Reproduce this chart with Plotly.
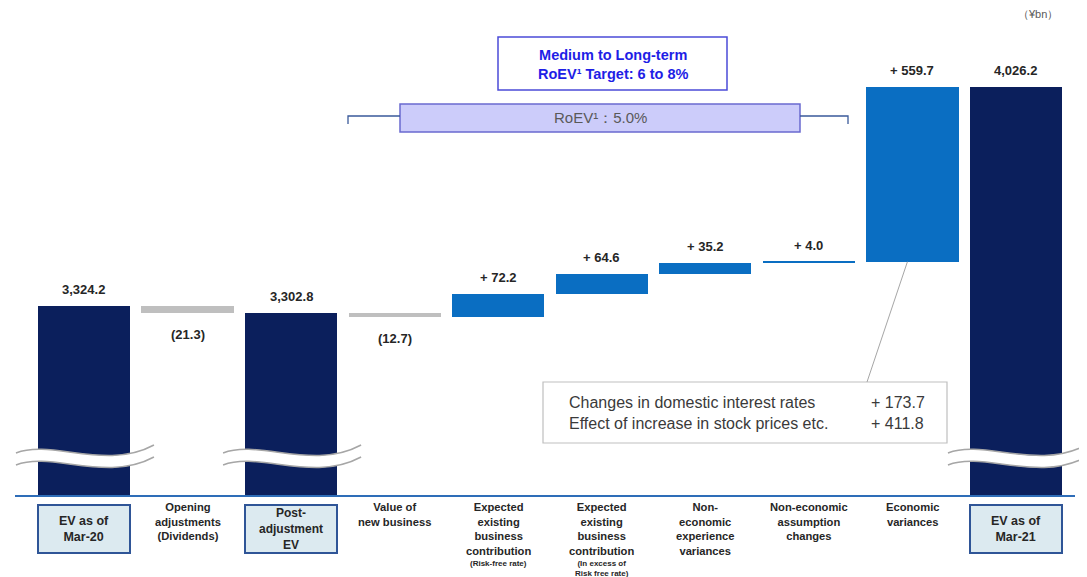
import plotly.graph_objects as go

# ---------------- data ----------------
categories = [
    "EV as of<br>Mar-20",
    "Opening<br>adjustments<br>(Dividends)",
    "Post-<br>adjustment<br>EV",
    "Value of<br>new business",
    "Expected<br>existing<br>business<br>contribution",
    "Expected<br>existing<br>business<br>contribution",
    "Non-<br>economic<br>experience<br>variances",
    "Non-economic<br>assumption<br>changes",
    "Economic<br>variances",
    "EV as of<br>Mar-21",
]
sub_notes = ["", "", "", "", "(Risk-free rate)", "(In excess of<br>Risk free rate)", "", "", "", ""]
values = [3324.2, -21.3, 3302.8, -12.7, 72.2, 64.6, 35.2, 4.0, 559.7, 4026.2]
kinds = ["total", "change", "total", "change", "change", "change", "change", "change", "change", "total"]
detail_labels = ["Changes in domestic interest rates", "Effect of increase in stock prices etc."]
detail_values = [173.7, 411.8]
roev_actual = "5.0%"
roev_target = "6 to 8%"
unit_label = "（¥bn）"

# ---------------- styling / layout constants ----------------
NAVY = "#0B1F5C"
BLUE = "#0A6EC2"
GRAY = "#BFBFBF"
TXT = "#262626"
FONT = "Arial, Liberation Sans, sans-serif"

PAGE_OFFSET = 8  # default page body margin
W, H = 1087 - PAGE_OFFSET, 577 - PAGE_OFFSET
# plot area in window pixels
PL, PR, PT, PB = 15, 1075, 40, 495
ML, MT = PL - PAGE_OFFSET, PT - PAGE_OFFSET
MR = W - (PR - PAGE_OFFSET)
MB = H - (PB - PAGE_OFFSET)
PW, PH = PR - PL, PB - PT
X_RANGE = [-0.666, 9.57]
Y_RANGE = [2718.4, 4176.9]


def px(xp):
    return (xp - PL) / PW


def py(yp):
    return (PB - yp) / PH


def cat_px(i):
    return PL + (i - X_RANGE[0]) / (X_RANGE[1] - X_RANGE[0]) * PW


# ---------------- waterfall geometry from data ----------------
bases, heights, colors, tops, bottoms = [], [], [], [], []
running = 0.0
for v, k in zip(values, kinds):
    if k == "total":
        bases.append(0.0)
        heights.append(v)
        colors.append(NAVY)
        running = v
    else:
        if v < 0:
            bases.append(running + v)
            heights.append(-v)
            colors.append(GRAY)
        else:
            bases.append(running)
            heights.append(v)
            colors.append(BLUE)
        running += v
    tops.append(bases[-1] + heights[-1])
    bottoms.append(bases[-1])


def fmt(v, k):
    if k == "total":
        return f"{v:,.1f}"
    if v < 0:
        return f"({abs(v):,.1f})"
    return f"+ {v:,.1f}"


idx = list(range(len(categories)))

fig = go.Figure()
fig.add_trace(go.Bar(
    x=idx, y=heights, base=bases, width=0.89,
    marker=dict(color=colors, line=dict(width=0)),
    hoverinfo="skip", showlegend=False,
))

annotations = []
shapes = []

# value labels
for i, (v, k) in enumerate(zip(values, kinds)):
    if k == "change" and v < 0:
        annotations.append(dict(x=i, y=bottoms[i], xref="x", yref="y", text=f"<b>{fmt(v, k)}</b>",
                                showarrow=False, xanchor="center", yanchor="top", yshift=-12,
                                font=dict(size=13, color=TXT, family=FONT)))
    else:
        annotations.append(dict(x=i, y=tops[i], xref="x", yref="y", text=f"<b>{fmt(v, k)}</b>",
                                showarrow=False, xanchor="center", yanchor="bottom", yshift=7,
                                font=dict(size=13, color=TXT, family=FONT)))

# category labels
for i, (c, k) in enumerate(zip(categories, kinds)):
    if k == "total":
        annotations.append(dict(x=i, y=0, xref="x", yref="paper", text=f"<b>{c}</b>",
                                showarrow=False, xanchor="center", yanchor="top", yshift=-9,
                                width=88, height=44, borderpad=1, borderwidth=2,
                                bordercolor="#2F5597", bgcolor="#DCEAF0", valign="middle",
                                font=dict(size=12 if c.count("<br>") >= 2 else 12.5, color=TXT, family=FONT)))
    else:
        annotations.append(dict(x=i, y=0, xref="x", yref="paper", text=f"<b>{c}</b>",
                                showarrow=False, xanchor="center", yanchor="top", yshift=-4,
                                font=dict(size=11.2, color=TXT, family=FONT)))
        if sub_notes[i]:
            nlines = c.count("<br>") + 1
            annotations.append(dict(x=i, y=0, xref="x", yref="paper", text=f"<b>{sub_notes[i]}</b>",
                                    showarrow=False, xanchor="center", yanchor="top",
                                    yshift=-5 - nlines * 14.3,
                                    font=dict(size=8, color=TXT, family=FONT)))

# unit label
annotations.append(dict(x=px(1060), y=py(14), xref="paper", yref="paper", text=unit_label,
                        showarrow=False, xanchor="right", yanchor="middle",
                        font=dict(size=11, color="#595959", family=FONT)))

# RoEV target box
shapes.append(dict(type="rect", xref="paper", yref="paper", x0=px(498), x1=px(727), y0=py(90), y1=py(37),
                   line=dict(color="#4B4BD8", width=1.5), fillcolor="white"))
annotations.append(dict(x=px(612.5), y=py(64), xref="paper", yref="paper",
                        text=f"<b>Medium to Long-term<br>RoEV¹ Target: {roev_target}</b>",
                        showarrow=False, xanchor="center", yanchor="middle",
                        font=dict(size=14.5, color="#1E1EE6", family=FONT)))

# RoEV actual bar with bracket
shapes.append(dict(type="rect", xref="paper", yref="paper", x0=px(400), x1=px(800), y0=py(132), y1=py(104),
                   line=dict(color="#6A6AD0", width=1.5), fillcolor="#CCCCFA"))
annotations.append(dict(x=px(600), y=py(118), xref="paper", yref="paper",
                        text=f"RoEV¹：{roev_actual}",
                        showarrow=False, xanchor="center", yanchor="middle",
                        font=dict(size=15, color="#595959", family=FONT)))
shapes.append(dict(type="path", xref="paper", yref="paper",
                   path=f"M {px(348)},{py(124)} L {px(348)},{py(116)} L {px(400)},{py(116)}",
                   line=dict(color="#3A5A9A", width=1.3), fillcolor="rgba(0,0,0,0)"))
shapes.append(dict(type="path", xref="paper", yref="paper",
                   path=f"M {px(800)},{py(116)} L {px(848)},{py(116)} L {px(848)},{py(124)}",
                   line=dict(color="#3A5A9A", width=1.3), fillcolor="rgba(0,0,0,0)"))

# economic variance detail box
shapes.append(dict(type="rect", xref="paper", yref="paper", x0=px(543), x1=px(947), y0=py(443), y1=py(382),
                   line=dict(color="#BFBFBF", width=1.2), fillcolor="white"))
for j, (lab, val) in enumerate(zip(detail_labels, detail_values)):
    yy = 402 + j * 21
    annotations.append(dict(x=px(567), y=py(yy), xref="paper", yref="paper", text=lab,
                            showarrow=False, xanchor="left", yanchor="middle",
                            font=dict(size=16, color="#3A3A3A", family=FONT)))
    annotations.append(dict(x=px(869), y=py(yy), xref="paper", yref="paper", text=f"+ {val:,.1f}",
                            showarrow=False, xanchor="left", yanchor="middle",
                            font=dict(size=16, color="#3A3A3A", family=FONT)))

# connector from economic variances bar to detail box
econ_i = 8
econ_bottom_px = PB - (bottoms[econ_i] - Y_RANGE[0]) / (Y_RANGE[1] - Y_RANGE[0]) * PH
shapes.append(dict(type="line", xref="paper", yref="paper",
                   x0=px(cat_px(econ_i) - 5), y0=py(econ_bottom_px), x1=px(867), y1=py(382),
                   line=dict(color="#A6A6A6", width=1)))

# axis break marks on total bars
for i, k in enumerate(kinds):
    if k != "total":
        continue
    cx = cat_px(i)

    def P(dx, dy):
        return f"{px(cx + dx)},{py(dy)}"

    up = [(-68, 453), (-32, 439), (22, 471), (70, 445)]
    lo = [(a, b + 12) for a, b in up]
    fill_path = (f"M {P(*up[0])} C {P(*up[1])} {P(*up[2])} {P(*up[3])} "
                 f"L {P(*lo[3])} C {P(*lo[2])} {P(*lo[1])} {P(*lo[0])} Z")
    shapes.append(dict(type="path", xref="paper", yref="paper", path=fill_path,
                       fillcolor="white", line=dict(width=0)))
    for pts in (up, lo):
        shapes.append(dict(type="path", xref="paper", yref="paper",
                           path=f"M {P(*pts[0])} C {P(*pts[1])} {P(*pts[2])} {P(*pts[3])}",
                           fillcolor="rgba(0,0,0,0)", line=dict(color="#A6A6A6", width=1.5)))

fig.update_layout(
    width=W, height=H,
    margin=dict(l=ML, r=MR, t=MT, b=MB),
    plot_bgcolor="white", paper_bgcolor="white",
    xaxis=dict(range=X_RANGE, showticklabels=False, showgrid=False, zeroline=False,
               showline=True, linecolor="#2E6DB8", linewidth=2, ticks="", fixedrange=True),
    yaxis=dict(range=Y_RANGE, visible=False, fixedrange=True),
    annotations=annotations,
    shapes=shapes,
    bargap=0,
    font=dict(family=FONT),
)

fig.write_html("out.html")
